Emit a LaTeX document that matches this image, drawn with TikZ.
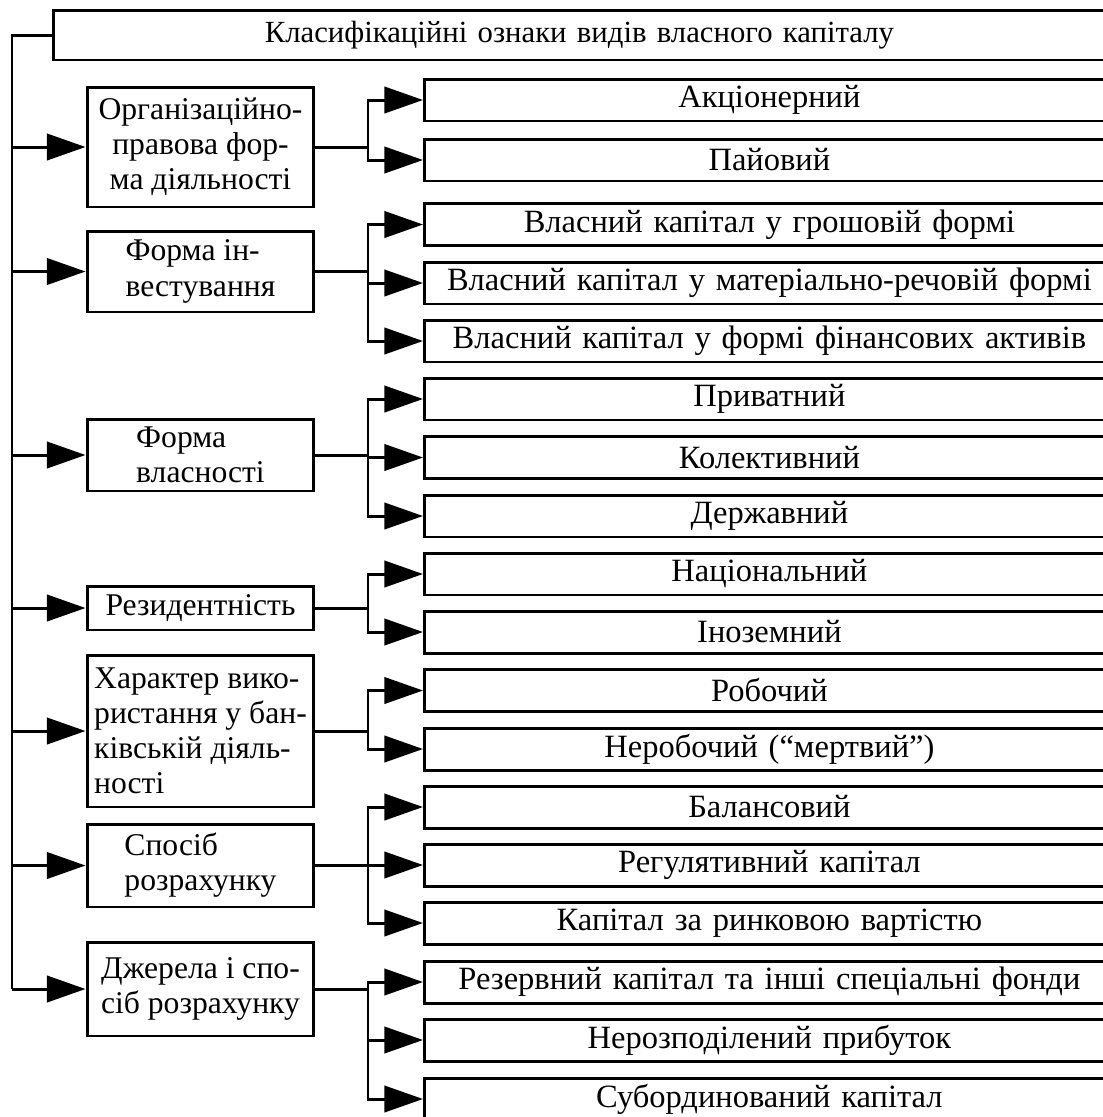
\documentclass[tikz,border=0pt]{standalone}
\usepackage{fontspec}
\setmainfont{Liberation Serif}
\usetikzlibrary{arrows.meta}
\tikzset{
  box/.style={draw,line width=1.7pt,inner sep=0pt},
  kindbox/.style={box,minimum width=4.54cm,align=left,font=\fontsize{18}{20}\selectfont},
  openbox/.style={box,anchor=west,align=center,execute at end node={\hspace*{2cm}}},
  itembox/.style={openbox,text width=15.8cm,minimum height=0.84cm,font=\fontsize{18.5}{20}\selectfont},
  tri/.style={-{Triangle[length=22pt,width=15pt]}}
}
\begin{document}
\begin{tikzpicture}[x=0.02cm,y=-0.02cm,line width=1.7pt]
        \useasboundingbox (0,0) rectangle (1103,1117);
        \clip (0,0) rectangle (1103,1117);
        \fill[white] (0,0) rectangle (1103,1117);
        % title
        \node[openbox,text width=23.04cm,minimum height=1cm,font=\fontsize{17.5}{20}\selectfont] (title) at (52,35) {Класифікаційні ознаки видів власного капіталу};
        % classification signs
        \node[kindbox,minimum height=2.4cm,align=center] (k1) at (200.5,147) {Організаційно-\\правова фор-\\ма діяльності};
        \node[kindbox,minimum height=1.62cm] (k2) at (200.5,271.5) {Форма ін-\\вестування};
        \node[kindbox,minimum height=1.44cm] (k3) at (200.5,455) {Форма\\власності};
        \node[kindbox,minimum height=0.88cm] (k4) at (200.5,608) {Резидентність};
        \node[kindbox,minimum height=3.04cm] (k5) at (200.5,731) {Характер вико-\\ристання у бан-\\ківській діяль-\\ності};
        \node[kindbox,minimum height=1.66cm] (k6) at (200.5,865.5) {Спосіб\\розрахунку};
        \node[kindbox,minimum height=1.88cm,align=center] (k7) at (200.5,989) {Джерела і спо-\\сіб розрахунку};
        % kinds of capital
        \node[itembox] (i1) at (423,100) {Акціонерний};
        \node[itembox] (i2) at (423,160) {Пайовий};
        \node[itembox] (i3) at (423,224.5) {Власний капітал у грошовій формі};
        \node[itembox] (i4) at (423,283) {Власний капітал у матеріально-речовій формі};
        \node[itembox] (i5) at (423,341) {Власний капітал у формі фінансових активів};
        \node[itembox] (i6) at (423,399) {Приватний};
        \node[itembox] (i7) at (423,457.5) {Колективний};
        \node[itembox] (i8) at (423,516) {Державний};
        \node[itembox] (i9) at (423,574) {Національний};
        \node[itembox] (i10) at (423,632) {Іноземний};
        \node[itembox] (i11) at (423,690.5) {Робочий};
        \node[itembox] (i12) at (423,749) {Неробочий (“мертвий”)};
        \node[itembox] (i13) at (423,807) {Балансовий};
        \node[itembox] (i14) at (423,865) {Регулятивний капітал};
        \node[itembox] (i15) at (423,923) {Капітал за ринковою вартістю};
        \node[itembox] (i16) at (423,982) {Резервний капітал та інші спеціальні фонди};
        \node[itembox] (i17) at (423,1040) {Нерозподілений прибуток};
        \node[itembox] (i18) at (423,1099) {Субординований капітал};
        % spine
        \coordinate (spine) at (12,989);
        \draw (title.west) -| (spine);
        \foreach \k in {1,...,7}
          \draw[tri] (spine |- k\k) -- (k\k.west);
        % branches
        \foreach \k/\items in {1/{1,2},2/{3,4,5},3/{6,7,8},4/{9,10},5/{11,12},6/{13,14,15},7/{16,17,18}}{
          \coordinate (b\k) at (368,0 |- k\k);
          \draw (k\k.east) -- (b\k);
          \foreach \i in \items
            \draw[tri] (b\k) |- (i\i.west);
        }
\end{tikzpicture}
\end{document}
